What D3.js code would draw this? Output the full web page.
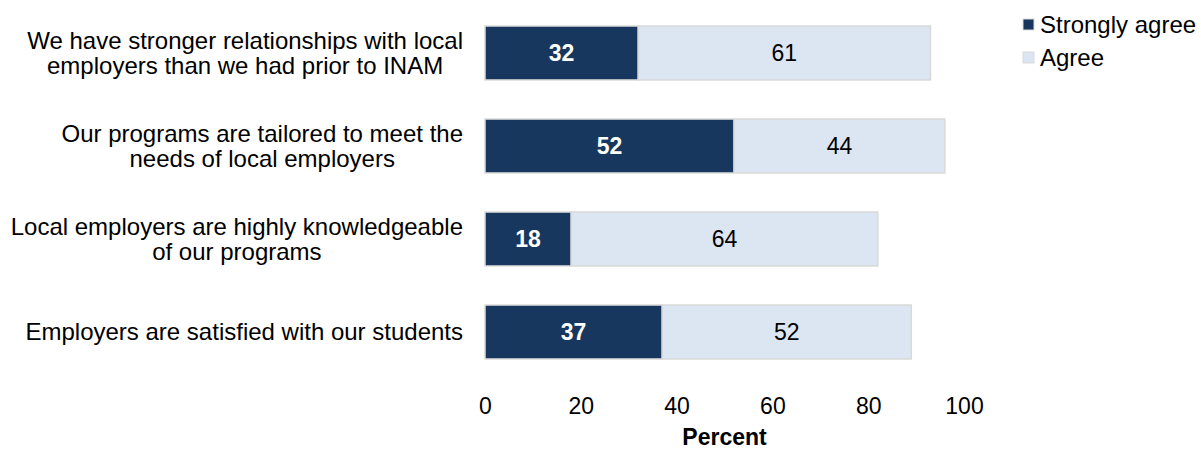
<!DOCTYPE html>
<html>
<head>
<meta charset="utf-8">
<script src="https://cdn.jsdelivr.net/npm/d3@7"></script>
<style>
  html, body { margin: 0; padding: 0; background: #fff; }
  svg { display: block; font-family: "Liberation Sans", Arial, sans-serif; }
</style>
</head>
<body>
<svg id="chart" width="1201" height="453"></svg>
<script>
// Survey statements (each label is split into its display lines)
const statements = [
  ["We have stronger relationships with local", "employers than we had prior to INAM"],
  ["Our programs are tailored to meet the", "needs of local employers"],
  ["Local employers are highly knowledgeable", "of our programs"],
  ["Employers are satisfied with our students"]
];
const stronglyAgree = [32, 52, 18, 37];
const agree = [61, 44, 64, 52];
const seriesNames = ["Strongly agree", "Agree"];
const xTicks = [0, 20, 40, 60, 80, 100];
const axisTitle = "Percent";

const colors = { strong: "#17375e", agree: "#dce6f2", edge: "#d9d9d9" };

const svg = d3.select("#chart");
const ids = statements.map((_, i) => i);

const x = d3.scaleLinear().domain([0, 100]).range([485, 964]);
const y = d3.scaleBand().domain(ids).range([6.5, 378.5])
  .paddingInner(0.42).paddingOuter(0.21);

// Stacked segments
const rows = ids.map(i => ({ i, strong: stronglyAgree[i], agree: agree[i] }));
const stack = d3.stack().keys(["strong", "agree"])(rows);

const g = svg.append("g");
stack.forEach(layer => {
  g.selectAll(null).data(layer).enter().append("rect")
    .attr("x", d => x(d[0]))
    .attr("y", d => y(d.data.i))
    .attr("width", d => x(d[1]) - x(d[0]))
    .attr("height", y.bandwidth())
    .attr("fill", colors[layer.key])
    .attr("stroke", colors.edge)
    .attr("stroke-width", 1.5);
});

// Value labels inside segments
stack.forEach(layer => {
  g.selectAll(null).data(layer).enter().append("text")
    .attr("x", d => (x(d[0]) + x(d[1])) / 2)
    .attr("y", d => y(d.data.i) + y.bandwidth() / 2)
    .attr("dy", "0.35em")
    .attr("text-anchor", "middle")
    .attr("font-size", 23)
    .attr("font-weight", layer.key === "strong" ? "bold" : "normal")
    .attr("fill", layer.key === "strong" ? "#ffffff" : "#000000")
    .text(d => d[1] - d[0]);
});

// Category labels: block right-aligned, lines centred within the block
const labelRight = 463;
const lineH = 24.5;
ids.forEach(i => {
  const lines = statements[i];
  const t = svg.append("text")
    .attr("font-size", 24)
    .attr("fill", "#000");
  const cy = y(i) + y.bandwidth() / 2;
  const tspans = lines.map((ln, k) => t.append("tspan")
    .attr("y", cy + (k - (lines.length - 1) / 2) * lineH)
    .attr("dy", "0.35em")
    .text(ln));
  const widths = tspans.map(s => s.node().getComputedTextLength());
  const maxW = d3.max(widths);
  const cx = labelRight - maxW / 2;
  tspans.forEach(s => s.attr("x", cx).attr("text-anchor", "middle"));
});

// X axis (labels only)
const axis = d3.axisBottom(x).tickValues(xTicks).tickSize(0).tickPadding(0);
const ax = svg.append("g").attr("transform", "translate(0,398)").call(axis);
ax.select(".domain").remove();
ax.selectAll("text")
  .attr("font-size", 23)
  .attr("font-family", "'Liberation Sans', Arial, sans-serif")
  .attr("fill", "#000");

svg.append("text")
  .attr("x", (x(0) + x(100)) / 2)
  .attr("y", 437)
  .attr("dy", "0.35em")
  .attr("text-anchor", "middle")
  .attr("font-size", 23)
  .attr("font-weight", "bold")
  .text(axisTitle);

// Legend
const legend = svg.append("g").attr("transform", "translate(1023,19)");
seriesNames.forEach((name, k) => {
  const row = legend.append("g").attr("transform", `translate(0,${k * 33})`);
  row.append("rect").attr("width", 11).attr("height", 11)
    .attr("fill", k === 0 ? colors.strong : colors.agree)
    .attr("stroke", colors.edge).attr("stroke-width", 1);
  row.append("text").attr("x", 17).attr("y", 5.5).attr("dy", "0.35em")
    .attr("font-size", 24).text(name);
});
</script>
</body>
</html>
